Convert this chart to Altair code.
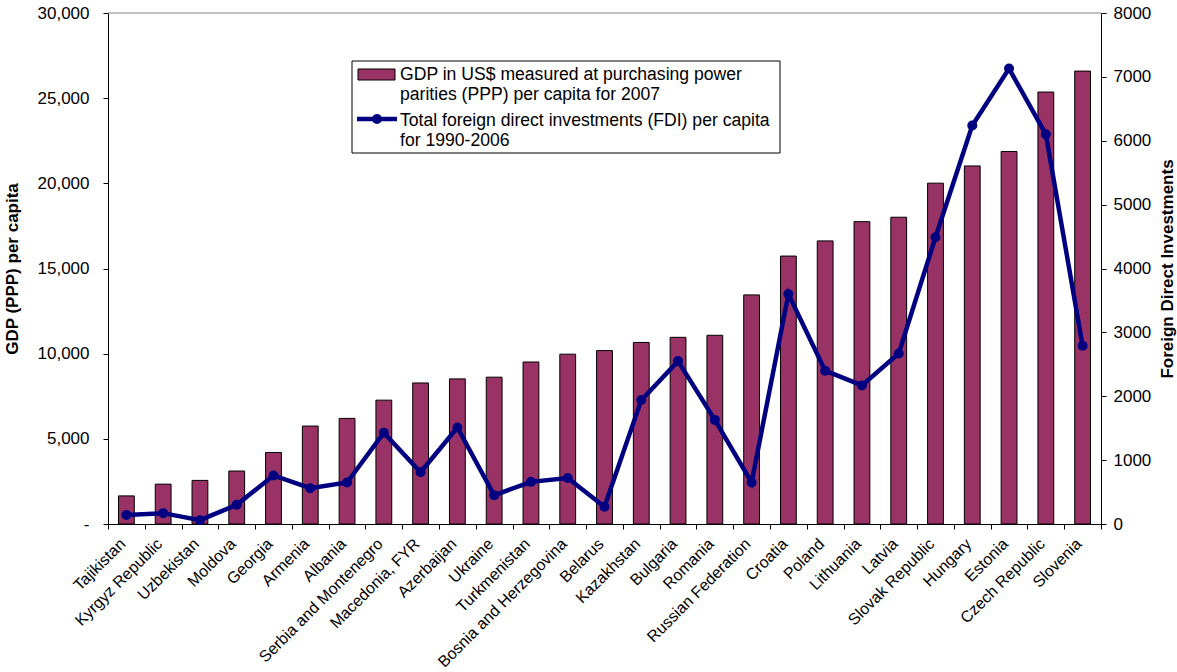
import altair as alt
import pandas as pd

countries = ["Tajikistan", "Kyrgyz Republic", "Uzbekistan", "Moldova", "Georgia", "Armenia",
             "Albania", "Serbia and Montenegro", "Macedonia, FYR", "Azerbaijan", "Ukraine",
             "Turkmenistan", "Bosnia and Herzegovina", "Belarus", "Kazakhstan", "Bulgaria",
             "Romania", "Russian Federation", "Croatia", "Poland", "Lithuania", "Latvia",
             "Slovak Republic", "Hungary", "Estonia", "Czech Republic", "Slovenia"]
gdp = [1650, 2340, 2560, 3110, 4200, 5750, 6200, 7270, 8280, 8520, 8620, 9510, 9970, 10180,
       10660, 10960, 11080, 13450, 15730, 16620, 17750, 18010, 20010, 21020, 21870, 25360, 26590]
fdi = [140, 170, 60, 300, 760, 560, 650, 1430, 810, 1510, 450, 660, 720, 270, 1940, 2550,
       1630, 650, 3600, 2400, 2170, 2670, 4490, 6240, 7130, 6100, 2790]
gdp_ticks = [0, 5000, 10000, 15000, 20000, 25000, 30000]
fdi_ticks = [0, 1000, 2000, 3000, 4000, 5000, 6000, 7000, 8000]
legend_gdp = ["GDP in US$ measured at purchasing power", "parities (PPP) per capita for 2007"]
legend_fdi = ["Total foreign direct investments (FDI) per capita", "for 1990-2006"]

FONT = "Liberation Sans, Arial, sans-serif"
BAR = "#993366"
NAVY = "#000080"
W, H = 993, 511

df = pd.DataFrame({"country": countries, "gdp": gdp, "fdi": fdi})
one = pd.DataFrame({"a": [0]})

xenc = alt.X("country:N", sort=countries,
             scale=alt.Scale(paddingInner=0, paddingOuter=0),
             axis=alt.Axis(title=None, labelAngle=-45, labelAlign="right", labelBaseline="middle",
                           labelLimit=0, tickBand="extent", tickSize=5, labelFontSize=16,
                           labelPadding=12, labelOffset=-4,
                           domainColor="black", tickColor="black"))

bars = alt.Chart(df).mark_bar(width=alt.RelativeBandSize(0.43), fill=BAR, stroke="black",
                              strokeWidth=1).encode(
    x=xenc,
    y=alt.Y("gdp:Q", scale=alt.Scale(domain=[0, 30000], nice=False),
            axis=alt.Axis(orient="left", values=gdp_ticks, tickSize=5, labelPadding=14,
                          title="GDP (PPP) per capita", titleFontWeight="bold",
                          titlePadding=16,
                          labelExpr="datum.value == 0 ? '-\u00a0\u00a0\u00a0\u00a0' : format(datum.value, ',')"))
)

line = alt.Chart(df).mark_line(color=NAVY, strokeWidth=4.5,
                               point=alt.OverlayMarkDef(filled=True, size=100, color=NAVY, opacity=1)).encode(
    x=alt.X("country:N", sort=countries),
    y=alt.Y("fdi:Q", scale=alt.Scale(domain=[0, 8000], nice=False),
            axis=alt.Axis(orient="right", values=fdi_ticks, tickSize=5, labelPadding=7,
                          format="d", title="Foreign Direct Investments",
                          titleFontWeight="bold", titleAngle=270, titleBaseline="top",
                          titlePadding=9))
)

top_border = alt.Chart(one).mark_rule(color="#808080", strokeWidth=1).encode(
    x=alt.value(0), x2=alt.value(W), y=alt.value(0))

leg_box = alt.Chart(one).mark_rect(fill="white", stroke="black", strokeWidth=1).encode(
    x=alt.value(244), x2=alt.value(672), y=alt.value(48), y2=alt.value(140))
leg_bar = alt.Chart(one).mark_rect(fill=BAR, stroke="black", strokeWidth=1).encode(
    x=alt.value(250), x2=alt.value(287), y=alt.value(56), y2=alt.value(67))
leg_line = alt.Chart(one).mark_rule(color=NAVY, strokeWidth=4.5).encode(
    x=alt.value(249), x2=alt.value(289), y=alt.value(106))
leg_pt = alt.Chart(one).mark_point(filled=True, size=100, color=NAVY, opacity=1).encode(
    x=alt.value(269), y=alt.value(106))

def ltext(txt, y):
    return alt.Chart(one).mark_text(align="left", baseline="middle", fontSize=17.6, font=FONT,
                                    color="black").encode(
        x=alt.value(292), y=alt.value(y), text=alt.value(txt))

texts = [ltext(legend_gdp[0], 62), ltext(legend_gdp[1], 82),
         ltext(legend_fdi[0], 108), ltext(legend_fdi[1], 128)]

chart = alt.layer(bars, line, top_border, leg_box, leg_bar, leg_line, leg_pt, *texts).resolve_scale(
    y="independent"
).properties(
    width=W, height=H,
    autosize=alt.AutoSizeParams(type="none"),
    padding={"left": 108, "top": 13, "right": 76, "bottom": 148},
).configure_axis(
    labelFont=FONT, titleFont=FONT, labelFontSize=17, titleFontSize=17,
    labelColor="black", titleColor="black", domainColor="black", tickColor="black",
    grid=False
).configure_view(stroke=None)

chart.save("out.html", embed_options={"renderer": "svg", "actions": False})
